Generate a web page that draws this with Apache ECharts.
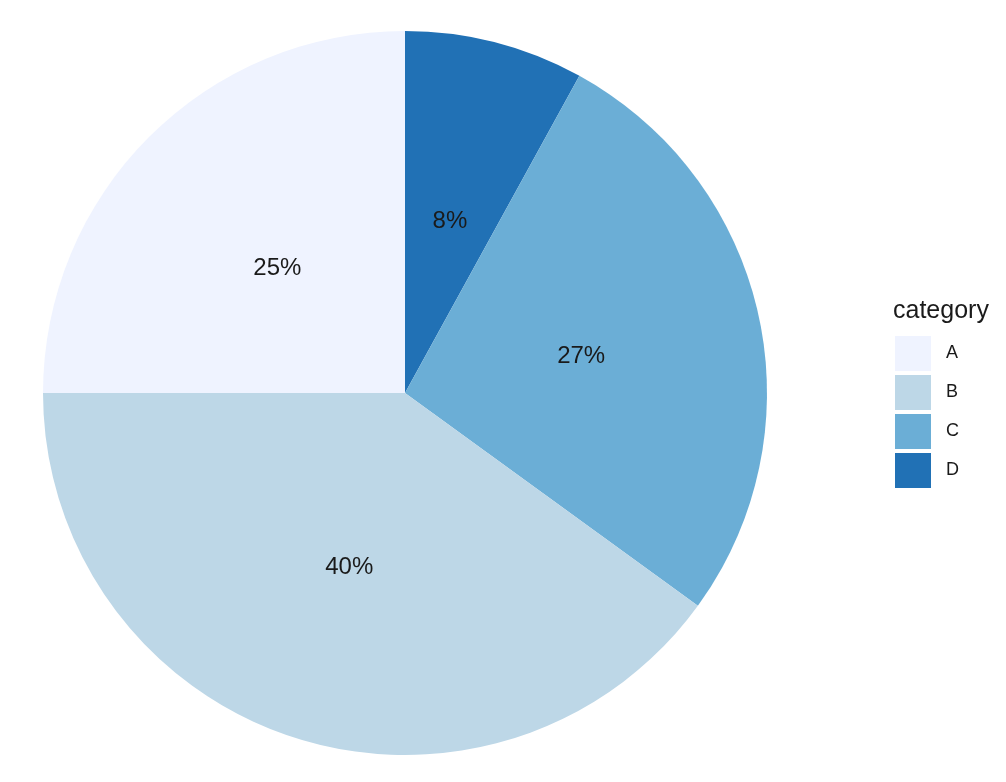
<!DOCTYPE html>
<html>
<head>
<meta charset="utf-8">
<script src="https://cdn.jsdelivr.net/npm/echarts@6/dist/echarts.min.js"></script>
<style>
html,body{margin:0;padding:0;background:#fff;}
#chart{width:1006px;height:782px;}
</style>
</head>
<body>
<div id="chart"></div>
<script>
const categories = ['A', 'B', 'C', 'D'];
const values = [25, 40, 27, 8];
const colors = ['#EFF3FF', '#BDD7E7', '#6BAED6', '#2171B5'];
const legendTitle = 'category';

// ggplot draws stack from top clockwise: D, C, B, A
const drawOrder = [3, 2, 1, 0];
const sliceData = drawOrder.map(i => ({
  name: categories[i],
  value: values[i],
  itemStyle: { color: colors[i] }
}));
const labelData = drawOrder.map(i => ({
  name: categories[i],
  value: values[i]
}));

const chart = echarts.init(document.getElementById('chart'), null, { renderer: 'canvas' });
chart.setOption({
  backgroundColor: '#ffffff',
  animation: false,
  color: colors,
  title: {
    text: legendTitle,
    left: 893,
    top: 299,
    padding: 0,
    textStyle: { fontFamily: 'Liberation Sans', fontSize: 25, fontWeight: 'normal', color: '#1a1a1a' }
  },
  legend: {
    data: categories,
    orient: 'vertical',
    left: 895,
    top: 336,
    padding: 0,
    itemWidth: 36,
    itemHeight: 35,
    itemGap: 4,
    icon: 'rect',
    itemStyle: { borderWidth: 0 },
    selectedMode: false,
    textStyle: { fontFamily: 'Liberation Sans', fontSize: 18, color: '#1a1a1a', padding: [0, 0, 0, 10] }
  },
  series: [{
    type: 'pie',
    center: [405, 393],
    radius: [0, 362],
    startAngle: 90,
    clockwise: true,
    silent: true,
    data: sliceData,
    label: { show: false },
    labelLine: { show: false },
    itemStyle: { borderWidth: 0 }
  }, {
    type: 'pie',
    center: [405, 396],
    radius: [0, 355],
    startAngle: 90,
    clockwise: true,
    silent: true,
    data: labelData,
    itemStyle: { color: 'rgba(0,0,0,0)', borderWidth: 0 },
    label: {
      show: true,
      position: 'inner',
      formatter: p => p.value + '%',
      fontFamily: 'Liberation Sans',
      fontSize: 24,
      color: '#1a1a1a'
    },
    labelLine: { show: false }
  }]
});
</script>
</body>
</html>
